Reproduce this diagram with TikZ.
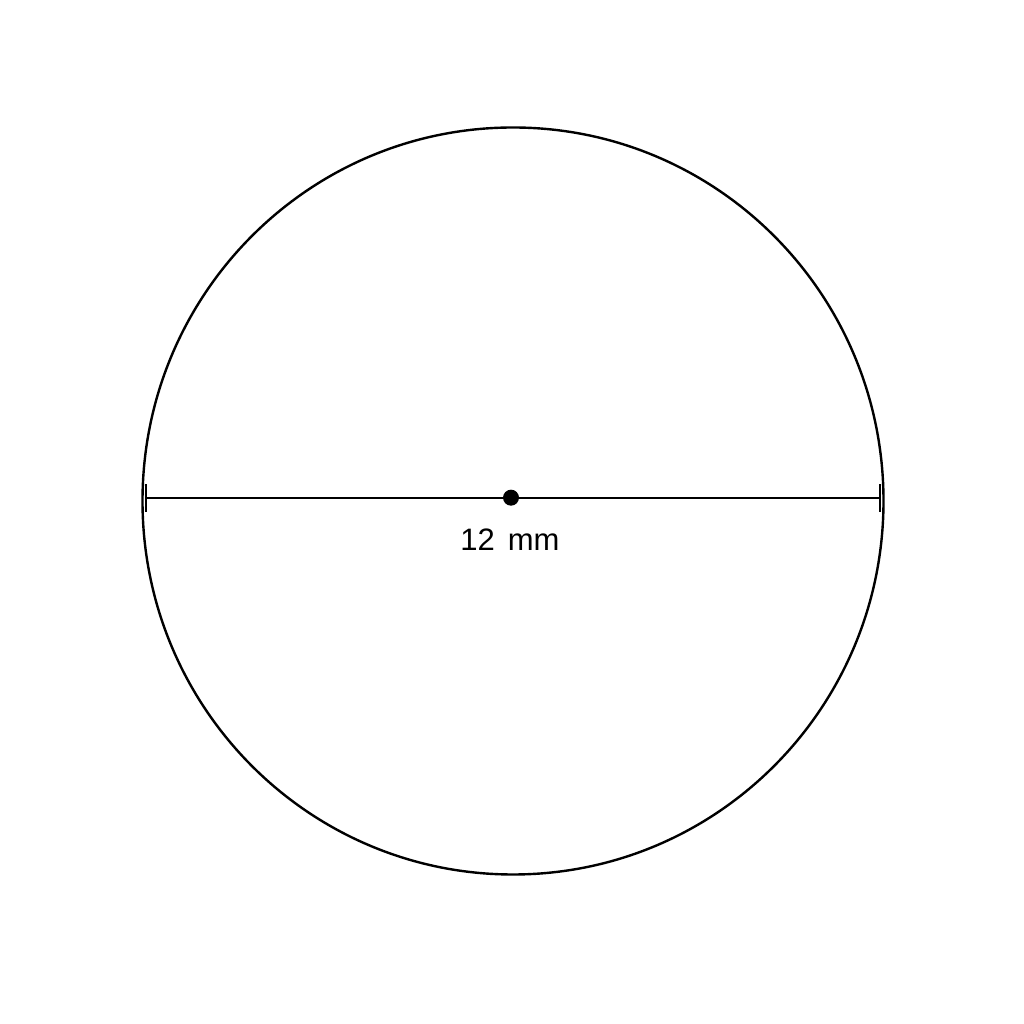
\documentclass[tikz,border=0pt]{standalone}
\usepackage{fontspec}
\setmainfont{Liberation Sans}
\usetikzlibrary{shapes.geometric}
\begin{document}
\begin{tikzpicture}[x=1pt,y=1pt,
  outline/.style={line width=2.4pt,draw=black},
  dimline/.style={line width=2.2pt,draw=black},
  tickmark/.style={line width=1.6pt,draw=black}]
\useasboundingbox (0,0) rectangle (1024,1024);
\node[outline,ellipse,minimum width=741pt,minimum height=747pt,inner sep=0pt] (circ) at (513,523) {};
\coordinate (L) at (146,526.3);
\coordinate (R) at (880,526.3);
\draw[dimline] (L) -- (R);
\draw[tickmark] ([yshift=-14pt]L) -- ([yshift=14pt]L);
\draw[tickmark] ([yshift=-14pt]R) -- ([yshift=14pt]R);
\fill (511,526.3) circle (8pt);
\node[anchor=base,font=\fontsize{31}{35}\selectfont,inner sep=0pt] (lbl) at (510,473) {12\hspace{0.42em}mm};
\end{tikzpicture}
\end{document}
